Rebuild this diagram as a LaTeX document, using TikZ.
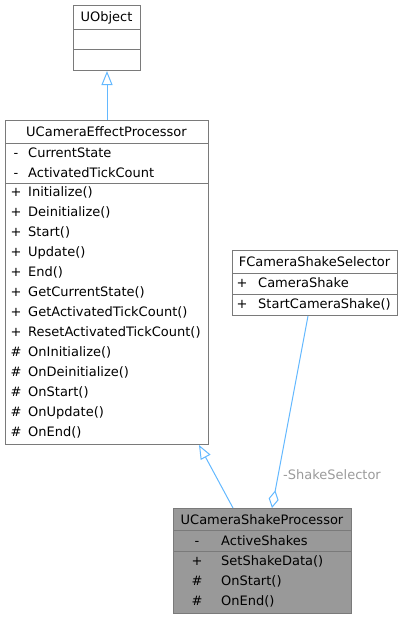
\documentclass[tikz,border=0pt]{standalone}
\usepackage{fontspec}
\setmainfont{DejaVu Sans}
\usetikzlibrary{arrows.meta,calc}
\definecolor{edgeblue}{HTML}{63B8FF}
\definecolor{boxgray}{HTML}{7A7A7A}
\definecolor{shakefill}{HTML}{999999}
\definecolor{lblgray}{HTML}{9A9A9A}
\tikzset{
  cls/.style={draw=boxgray, line width=1pt, fill=white, anchor=north west, inner sep=0pt, rectangle},
  sepline/.style={draw=boxgray, line width=1pt},
  txt/.style={inner sep=0pt, text height=9pt, text depth=0pt, font=\fontsize{13}{15}\selectfont},
  ttl/.style={txt, anchor=center},
  memb/.style={txt, anchor=west},
  vis/.style={txt, anchor=center},
  edge/.style={draw=edgeblue, line width=1pt},
  lbl/.style={txt, anchor=west, text=lblgray},
}
\begin{document}
\begin{tikzpicture}[x=1pt,y=-1pt]
\useasboundingbox (0,0) rectangle (403,619);
% UObject
\node[cls, minimum width=67pt, minimum height=65pt] (uobj) at (73,5) {};
\draw[sepline] (73,29) -- (140,29);
\draw[sepline] (73,49) -- (140,49);
\node[ttl] (uobjt) at (106.5,17) {UObject};
% UCameraEffectProcessor
\node[cls, minimum width=203pt, minimum height=324pt] (uce) at (5,120) {};
\draw[sepline] (5,143) -- (208,143);
\draw[sepline] (5,183) -- (208,183);
\node[ttl] (ucet) at (106.5,131.5) {UCameraEffectProcessor};
\foreach \n/\s [count=\i from 0] in {CurrentState/-, ActivatedTickCount/-}{
  \node[vis] (ucev\i) at (16,152.5+20*\i) {\s};
  \node[memb] (ucea\i) at (28,152.5+20*\i) {\n};
}
\foreach \n/\s [count=\i from 0] in {Initialize()/+, Deinitialize()/+, Start()/+, Update()/+, End()/+, GetCurrentState()/+, GetActivatedTickCount()/+, ResetActivatedTickCount()/+, OnInitialize()/\#, OnDeinitialize()/\#, OnStart()/\#, OnUpdate()/\#, OnEnd()/\#}{
  \node[vis] (ucemv\i) at (16,191.5+20.05*\i) {\s};
  \node[memb] (ucem\i) at (28,191.5+20.05*\i) {\n};
}
% FCameraShakeSelector
\node[cls, minimum width=165pt, minimum height=65pt] (fcs) at (232,250) {};
\draw[sepline] (232,273) -- (397,273);
\draw[sepline] (232,294) -- (397,294);
\node[ttl] (fcst) at (314.5,262) {FCameraShakeSelector};
\node[vis] (fcsv0) at (242,283) {+};
\node[memb] (fcsa0) at (258,283) {CameraShake};
\node[vis] (fcsv1) at (242,303.5) {+};
\node[memb] (fcsm0) at (258,303.5) {StartCameraShake()};
% UCameraShakeProcessor
\node[cls, fill=shakefill, minimum width=178pt, minimum height=105pt] (usp) at (173,508) {};
\draw[sepline] (173,530.5) -- (351,530.5);
\draw[sepline] (173,551) -- (351,551);
\node[ttl] (uspt) at (262,519.5) {UCameraShakeProcessor};
\node[vis] (uspv0) at (197,540.5) {-};
\node[memb] (uspa0) at (221,540.5) {ActiveShakes};
\foreach \n/\s [count=\i from 0] in {SetShakeData()/+, OnStart()/\#, OnEnd()/\#}{
  \node[vis] (uspmv\i) at (197,560.5+20*\i) {\s};
  \node[memb] (uspm\i) at (221,560.5+20*\i) {\n};
}
% connectors
\draw[edge, -{Triangle[open, length=14pt, width=11pt]}] (uce.north) -- (uobj.south);
\coordinate (uspIn) at ($(usp.north west)+(60pt,0)$);
\coordinate (uceIn) at ($(uce.south west)+(194pt,0)$);
\draw[edge, -{Triangle[open, length=14pt, width=11pt]}] (uspIn) -- (uceIn);
\coordinate (uspAg) at ($(usp.north west)+(99pt,0)$);
\coordinate (fcsAg) at ($(fcs.south west)+(76pt,0)$);
\draw[edge, {Diamond[open, length=18pt, width=10pt]}-] (uspAg) -- (fcsAg);
\node[lbl] (aglbl) at (283,475) {-ShakeSelector};
\end{tikzpicture}
\end{document}
